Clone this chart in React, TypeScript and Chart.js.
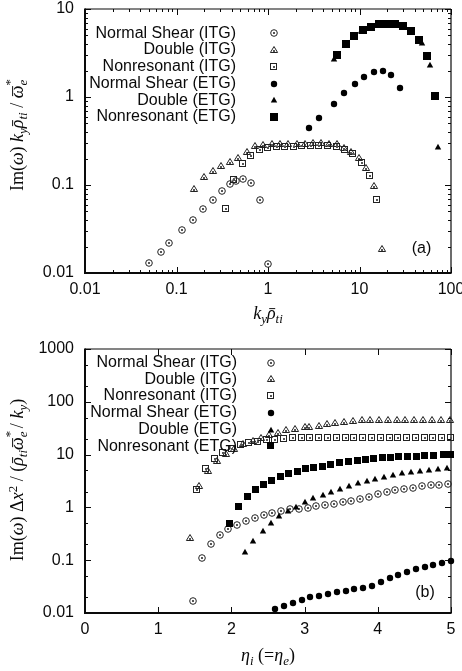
import React, { useEffect, useRef } from 'react';
import { Chart, registerables } from 'chart.js';

Chart.register(...registerables);

// ---------------- Panel (a) ----------------
const aXTicks = [0.01, 0.1, 1, 10, 100];
const aYTicks = [0.01, 0.1, 1, 10];

const aNsItgX = [0.05, 0.067, 0.083, 0.116, 0.15, 0.197, 0.249, 0.314, 0.384, 0.45, 0.533, 0.652, 0.818, 0.99];
const aNsItgY = [0.0131, 0.0175, 0.0221, 0.0312, 0.04, 0.0534, 0.0676, 0.0855, 0.102, 0.112, 0.117, 0.106, 0.0676, 0.0126];

const aDbItgX = [0.157, 0.2, 0.249, 0.31, 0.384, 0.474, 0.589, 0.73, 0.889, 1.097, 1.35, 1.67, 2.05, 2.54, 3.1, 3.8, 4.64, 5.68, 6.77, 8.08, 9.8, 11.8, 14.4, 17.5];
const aDbItgY = [0.09, 0.124, 0.144, 0.164, 0.182, 0.205, 0.237, 0.275, 0.287, 0.292, 0.292, 0.292, 0.292, 0.295, 0.3, 0.3, 0.295, 0.292, 0.265, 0.239, 0.201, 0.158, 0.0975, 0.0186];

const aNrItgX = [0.345, 0.428, 0.533, 0.66, 0.818, 1.01, 1.25, 1.55, 1.92, 2.38, 2.95, 3.65, 4.53, 5.61, 6.95, 8.56, 10.6, 12.9, 15.7];
const aNrItgY = [0.054, 0.114, 0.171, 0.215, 0.25, 0.263, 0.268, 0.268, 0.271, 0.274, 0.277, 0.277, 0.277, 0.271, 0.25, 0.223, 0.178, 0.126, 0.067];

const aNsEtgX = [2.83, 3.64, 5.23, 6.82, 8.87, 11.3, 14.3, 17.9, 22.3, 27.5];
const aNsEtgY = [0.448, 0.582, 0.839, 1.11, 1.41, 1.69, 1.93, 1.99, 1.79, 1.26];

const aDbEtgX = [5.3, 6.9, 8.4, 10.5, 13.1, 16.2, 19.5, 24.0, 29.5, 36.5, 47.9, 58.9, 71.6];
const aDbEtgY = [2.7, 3.9, 4.8, 5.6, 6.2, 6.6, 6.7, 6.7, 6.3, 5.5, 4.08, 2.31, 0.272];

const aNrEtgX = [5.68, 7.12, 8.65, 10.8, 13.4, 16.5, 19.8, 24.4, 29.9, 36.8, 45.1, 55.1, 67.3];
const aNrEtgY = [3.0, 4.03, 4.97, 5.77, 6.29, 6.75, 6.75, 6.75, 6.41, 5.62, 4.44, 2.95, 1.03];

// ---------------- Panel (b) ----------------
const bXTicks = [0, 1, 2, 3, 4, 5];
const bYTicks = [0.01, 0.1, 1, 10, 100, 1000];

const bNsItgX = [1.48, 1.6, 1.72, 1.84, 1.96, 2.08, 2.2, 2.32, 2.44, 2.56, 2.68, 2.8, 2.92, 3.04, 3.16, 3.28, 3.4, 3.52, 3.64, 3.76, 3.88, 4.0, 4.12, 4.24, 4.36, 4.48, 4.6, 4.72, 4.84, 4.96];
const bNsItgY = [0.0169, 0.11, 0.205, 0.296, 0.385, 0.464, 0.552, 0.638, 0.708, 0.794, 0.855, 0.921, 0.953, 0.995, 1.06, 1.11, 1.17, 1.25, 1.35, 1.46, 1.6, 1.8, 1.96, 2.09, 2.23, 2.38, 2.51, 2.62, 2.69, 2.74];

const bDbItgX = [1.44, 1.56, 1.68, 1.8, 1.93, 2.04, 2.16, 2.29, 2.4, 2.52, 2.64, 2.75, 2.87, 3.0, 3.06, 3.19, 3.3, 3.42, 3.54, 3.66, 3.78, 3.9, 4.01, 4.14, 4.26, 4.37, 4.5, 4.62, 4.74, 4.86, 4.98];
const bDbItgY = [0.267, 2.54, 4.89, 7.57, 10.1, 12.8, 15.7, 18.1, 20.9, 23.5, 26.2, 29.2, 31.2, 32.9, 33.8, 35.2, 37.5, 39.2, 42.0, 43.3, 44.7, 45.2, 45.2, 45.2, 45.2, 45.2, 45.2, 45.2, 45.2, 45.2, 44.5];

const bNrItgX = [1.53, 1.65, 1.77, 1.89, 2.01, 2.13, 2.24, 2.36, 2.48, 2.6, 2.72, 2.84, 2.96, 3.08, 3.2, 3.32, 3.44, 3.56, 3.68, 3.8, 3.92, 4.04, 4.16, 4.28, 4.4, 4.52, 4.64, 4.76, 4.88, 5.0];
const bNrItgY = [2.14, 5.29, 8.18, 10.9, 13.0, 14.9, 16.6, 17.7, 18.5, 19.1, 19.5, 20.2, 20.4, 20.4, 20.4, 20.4, 20.4, 20.4, 20.4, 20.4, 20.4, 20.4, 20.4, 20.4, 20.4, 20.4, 20.4, 20.4, 20.4, 20.4];

const bNsEtgX = [2.6, 2.72, 2.84, 2.96, 3.08, 3.2, 3.32, 3.44, 3.56, 3.68, 3.8, 3.92, 4.04, 4.16, 4.28, 4.4, 4.52, 4.64, 4.76, 4.88, 5.0];
const bNsEtgY = [0.0119, 0.0137, 0.0157, 0.0179, 0.0198, 0.0213, 0.0229, 0.0247, 0.0264, 0.0285, 0.0302, 0.0329, 0.0387, 0.0454, 0.0525, 0.0606, 0.0681, 0.0753, 0.0822, 0.0897, 0.0966];

const bDbEtgX = [2.19, 2.3, 2.43, 2.54, 2.65, 2.77, 2.88, 3.01, 3.12, 3.25, 3.36, 3.49, 3.61, 3.73, 3.85, 3.96, 4.09, 4.21, 4.33, 4.45, 4.58, 4.7, 4.82, 4.94];
const bDbEtgY = [0.143, 0.234, 0.362, 0.5, 0.687, 0.855, 1.03, 1.25, 1.49, 1.69, 1.95, 2.2, 2.58, 2.86, 3.16, 3.45, 3.81, 4.11, 4.42, 4.62, 4.89, 5.11, 5.33, 5.51];

const bNrEtgX = [1.98, 2.11, 2.23, 2.34, 2.45, 2.56, 2.68, 2.79, 2.91, 3.02, 3.13, 3.25, 3.36, 3.49, 3.6, 3.73, 3.84, 3.95, 4.07, 4.18, 4.29, 4.41, 4.53, 4.65, 4.77, 4.9, 5.0];
const bNrEtgY = [0.479, 1.03, 1.6, 2.09, 2.62, 3.23, 3.72, 4.2, 4.74, 5.27, 5.65, 5.9, 6.36, 6.84, 7.14, 7.56, 7.9, 8.15, 8.51, 8.74, 8.89, 9.12, 9.12, 9.4, 9.4, 9.82, 9.82];

const legendLabels = [
  'Normal Shear (ITG)',
  'Double (ITG)',
  'Nonresonant (ITG)',
  'Normal Shear (ETG)',
  'Double (ETG)',
  'Nonresonant (ETG)',
];

const SANS = '"Liberation Sans", Arial, Helvetica, sans-serif';
const SERIF = '"Liberation Serif", "Times New Roman", "DejaVu Serif", serif';
const INK = '#0a0a0a';

function makeMarker(kind: string, size = 8): HTMLCanvasElement {
  const c = document.createElement('canvas');
  c.width = 10;
  c.height = 10;
  const g = c.getContext('2d')!;
  g.strokeStyle = '#222';
  g.fillStyle = '#000';
  g.lineWidth = 1;
  const dot = (x: number, y: number) => {
    g.fillStyle = '#555';
    g.fillRect(x, y, 2, 2);
    g.fillStyle = '#000';
  };
  if (kind === 'oc') {
    g.beginPath();
    g.arc(5, 5, 3.3, 0, Math.PI * 2);
    g.stroke();
    dot(4, 4);
  } else if (kind === 'ot') {
    g.beginPath();
    g.moveTo(5, 1.5);
    g.lineTo(8.6, 7.5);
    g.lineTo(1.4, 7.5);
    g.closePath();
    g.stroke();
    dot(4, 5);
  } else if (kind === 'os') {
    g.strokeRect(1.5, 1.5, 6, 6);
    dot(4, 4);
  } else if (kind === 'fc') {
    g.beginPath();
    g.arc(5, 5, 3.2, 0, Math.PI * 2);
    g.fill();
  } else if (kind === 'ft') {
    g.beginPath();
    g.moveTo(5, 1.8);
    g.lineTo(8.2, 7.5);
    g.lineTo(1.8, 7.5);
    g.closePath();
    g.fill();
  } else if (kind === 'fs') {
    const o = Math.floor((10 - size) / 2);
    g.fillRect(o, o, size, size);
  }
  return c;
}

const decor = {
  id: 'decor',
  beforeDatasetsDraw(chart: any, _a: any, o: any) {
    const ctx = chart.ctx;
    const { left, right, top, bottom } = chart.chartArea;
    const xs = chart.scales.x;
    const ys = chart.scales.y;
    ctx.save();
    ctx.strokeStyle = INK;
    ctx.lineWidth = 1;
    const seg = (x1: number, y1: number, x2: number, y2: number) => {
      ctx.beginPath();
      ctx.moveTo(x1, y1);
      ctx.lineTo(x2, y2);
      ctx.stroke();
    };
    const xt = (vals: number[], len: number) =>
      vals.forEach((v) => {
        const p = Math.round(xs.getPixelForValue(v)) + 0.5;
        seg(p, bottom, p, bottom - len);
        seg(p, top, p, top + len);
      });
    const yt = (vals: number[], len: number) =>
      vals.forEach((v) => {
        const p = Math.round(ys.getPixelForValue(v)) + 0.5;
        seg(left, p, left + len, p);
        seg(right, p, right - len, p);
      });
    xt(o.xMajor, 6);
    xt(o.xMinor, 3);
    yt(o.yMajor, 6);
    yt(o.yMinor, 3);
    // frame
    ctx.lineWidth = 1.2;
    seg(left, top, right, top);
    seg(right, top, right, bottom);
    ctx.lineWidth = 2;
    seg(left, top - 0.6, left, bottom + 1);
    seg(left - 1, bottom, right + 0.6, bottom);
    ctx.restore();
    // crisp marker images
    ctx.save();
    ctx.imageSmoothingEnabled = false;
  },
  afterDatasetsDraw(chart: any, _a: any, o: any) {
    const ctx = chart.ctx;
    ctx.restore();
    ctx.save();
    ctx.imageSmoothingEnabled = false;
    ctx.font = `16px ${SANS}`;
    ctx.fillStyle = INK;
    ctx.textAlign = 'right';
    ctx.textBaseline = 'middle';
    o.labels.forEach((t: string, i: number) => {
      const y = o.top + i * o.step;
      ctx.fillText(t, o.textRight, y);
      const m = o.markers[i];
      ctx.drawImage(m, Math.round(o.symX - m.width / 2), Math.round(y - m.height / 2));
    });
    ctx.textAlign = 'center';
    ctx.fillText(o.tag, o.tagX, o.tagY);
    ctx.restore();
  },
};

function logMinors(decades: number[], mults: number[]) {
  const out: number[] = [];
  decades.forEach((d) => mults.forEach((m) => out.push(d * m)));
  return out;
}

function pts(xs: number[], ys: number[]) {
  return xs.map((x, i) => ({ x, y: ys[i] }));
}

function makeConfig(p: any) {
  const tickFont = { family: SANS, size: 16 };
  const datasets = p.series.map((s: any, i: number) => ({
    label: legendLabels[i],
    data: pts(s[0], s[1]),
    pointStyle: p.markers[i],
    pointRadius: 4,
    pointHoverRadius: 4,
    showLine: false,
    clip: false,
    order: 5 - i,
  }));
  return {
    type: 'scatter',
    data: { datasets },
    plugins: [decor],
    options: {
      responsive: false,
      animation: false,
      devicePixelRatio: 1,
      events: [],
      layout: { padding: { top: p.padTop, right: 11, bottom: 0, left: 0 } },
      plugins: {
        legend: { display: false },
        tooltip: { enabled: false },
        decor: {
          xMajor: p.xTicks,
          xMinor: p.xMinor,
          yMajor: p.yTicks,
          yMinor: p.yMinor,
          labels: legendLabels,
          markers: p.markers,
          top: p.legTop,
          step: 16.75,
          textRight: p.textRight,
          symX: p.symX,
          tag: p.tag,
          tagX: p.tagX,
          tagY: p.tagY,
        },
      },
      scales: {
        x: {
          type: p.xType,
          min: p.xTicks[0],
          max: p.xTicks[p.xTicks.length - 1],
          afterBuildTicks: (s: any) => {
            s.ticks = p.xTicks.map((v: number) => ({ value: v }));
          },
          afterFit: (s: any) => {
            s.height = p.xAxisH;
            s.paddingLeft = 0;
            s.paddingRight = 0;
          },
          ticks: {
            callback: (v: any) => String(v),
            font: tickFont,
            color: INK,
            padding: 7,
            autoSkip: false,
            maxRotation: 0,
          },
          grid: { display: false, drawTicks: false },
          border: { display: false },
        },
        y: {
          type: 'logarithmic',
          min: p.yTicks[0],
          max: p.yTicks[p.yTicks.length - 1],
          afterBuildTicks: (s: any) => {
            s.ticks = p.yTicks.map((v: number) => ({ value: v }));
          },
          afterFit: (s: any) => {
            s.width = 85;
            s.paddingTop = 0;
            s.paddingBottom = 0;
          },
          ticks: {
            callback: (v: any) => String(v),
            font: tickFont,
            color: INK,
            padding: 11,
            autoSkip: false,
          },
          grid: { display: false, drawTicks: false },
          border: { display: false },
        },
      },
    },
  };
}

const I = ({ children }: any) => <span style={{ fontStyle: 'italic' }}>{children}</span>;
const Sub = ({ children }: any) => (
  <span style={{ fontSize: '0.72em', position: 'relative', top: '0.3em' }}>{children}</span>
);
const Sup = ({ children }: any) => (
  <span style={{ fontSize: '0.72em', position: 'relative', top: '-0.45em' }}>{children}</span>
);
const Bar = ({ children }: any) => (
  <span style={{ position: 'relative', display: 'inline-block' }}>
    {children}
    <span
      style={{
        position: 'absolute',
        left: '0.14em',
        right: '0.02em',
        top: '0.2em',
        borderTop: '1px solid #111',
      }}
    />
  </span>
);
const SupSub = ({ sup, sub }: any) => (
  <span
    style={{
      display: 'inline-block',
      position: 'relative',
      width: '0.36em',
      height: 0,
      fontSize: '0.72em',
      verticalAlign: 'baseline',
    }}
  >
    <span style={{ position: 'absolute', left: 0, top: '-1.45em', lineHeight: 1 }}>{sup}</span>
    <span style={{ position: 'absolute', left: 0, top: '-0.45em', lineHeight: 1 }}>{sub}</span>
  </span>
);

const Label = ({ x, y, rot = 0, children }: any) => (
  <div
    style={{
      position: 'absolute',
      left: x,
      top: y,
      transform: `translate(-50%, -50%) rotate(${rot}deg)`,
      whiteSpace: 'nowrap',
      fontFamily: SERIF,
      fontSize: 18,
      lineHeight: 1.1,
      color: INK,
    }}
  >
    {children}
  </div>
);

export default function App() {
  const refA = useRef<HTMLCanvasElement>(null);
  const refB = useRef<HTMLCanvasElement>(null);

  useEffect(() => {
    const mA = ['oc', 'ot', 'os', 'fc', 'ft', 'fs'].map((k) => makeMarker(k, 8));
    const mB = ['oc', 'ot', 'os', 'fc', 'ft', 'fs'].map((k) => makeMarker(k, 7));
    const decA = [0.01, 0.1, 1, 10];
    const cA = new Chart(
      refA.current!,
      makeConfig({
        xType: 'logarithmic',
        xTicks: aXTicks,
        yTicks: aYTicks,
        xMinor: logMinors(decA, [2, 3, 4, 5, 6, 7, 8, 9]),
        yMinor: logMinors([0.01, 0.1, 1], [2, 3, 4, 5, 6, 7, 8, 9]),
        series: [
          [aNsItgX, aNsItgY],
          [aDbItgX, aDbItgY],
          [aNrItgX, aNrItgY],
          [aNsEtgX, aNsEtgY],
          [aDbEtgX, aDbEtgY],
          [aNrEtgX, aNrEtgY],
        ],
        markers: mA,
        padTop: 9,
        xAxisH: 62,
        legTop: 33.3,
        textRight: 236,
        symX: 274.3,
        tag: '(a)',
        tagX: 421.5,
        tagY: 249,
      }) as any
    );
    const cB = new Chart(
      refB.current!,
      makeConfig({
        xType: 'linear',
        xTicks: bXTicks,
        yTicks: bYTicks,
        xMinor: [],
        yMinor: logMinors([0.01, 0.1, 1, 10, 100], [2, 5]),
        series: [
          [bNsItgX, bNsItgY],
          [bDbItgX, bDbItgY],
          [bNrItgX, bNrItgY],
          [bNsEtgX, bNsEtgY],
          [bDbEtgX, bDbEtgY],
          [bNrEtgX, bNrEtgY],
        ],
        markers: mB,
        padTop: 14,
        xAxisH: 58,
        legTop: 27.5,
        textRight: 237,
        symX: 271,
        tag: '(b)',
        tagX: 425,
        tagY: 257.5,
      }) as any
    );
    return () => {
      cA.destroy();
      cB.destroy();
    };
  }, []);

  return (
    <div
      style={{
        position: 'absolute',
        left: 0,
        top: 0,
        width: 462,
        height: 671,
        background: '#fff',
        overflow: 'hidden',
      }}
    >
      <canvas
        ref={refA}
        width={462}
        height={335}
        style={{ position: 'absolute', left: 0, top: 0, width: 462, height: 335 }}
      />
      <canvas
        ref={refB}
        width={462}
        height={336}
        style={{ position: 'absolute', left: 0, top: 335, width: 462, height: 336 }}
      />
      <Label x={18} y={136} rot={-90}>
        Im(<I>ω</I>) <I>k</I>
        <Sub>
          <I>y</I>
        </Sub>
        <Bar>
          <I>ρ</I>
        </Bar>
        <Sub>
          <I>ti</I>
        </Sub>{' '}
        /{' '}
        <Bar>
          <I>ω</I>
        </Bar>
        <SupSub sup="*" sub={<I>e</I>} />
      </Label>
      <Label x={268} y={314}>
        <I>k</I>
        <Sub>
          <I>y</I>
        </Sub>
        <Bar>
          <I>ρ</I>
        </Bar>
        <Sub>
          <I>ti</I>
        </Sub>
      </Label>
      <Label x={18} y={480} rot={-90}>
        Im(<I>ω</I>) Δ<I>x</I>
        <Sup>2</Sup> / (
        <Bar>
          <I>ρ</I>
        </Bar>
        <Sub>
          <I>ti</I>
        </Sub>
        <Bar>
          <I>ω</I>
        </Bar>
        <SupSub sup="*" sub={<I>e</I>} /> / <I>k</I>
        <Sub>
          <I>y</I>
        </Sub>
        )
      </Label>
      <Label x={268} y={656}>
        <I>η</I>
        <Sub>
          <I>i</I>
        </Sub>{' '}
        (=<I>η</I>
        <Sub>
          <I>e</I>
        </Sub>
        )
      </Label>
    </div>
  );
}
